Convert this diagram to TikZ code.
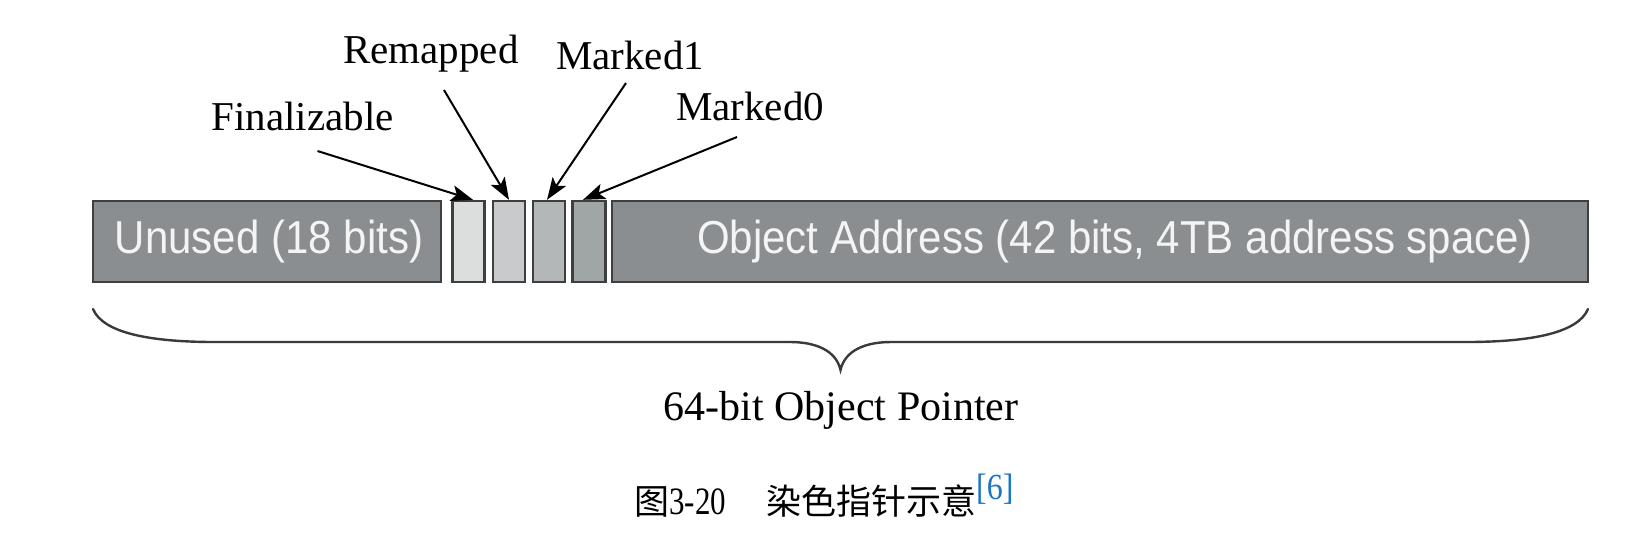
\documentclass[tikz,border=0pt]{standalone}
\usepackage{fontspec}
\setmainfont{Liberation Serif}
\setsansfont{Liberation Sans}
\newfontfamily\cjk{Noto Sans CJK SC}
\usetikzlibrary{arrows.meta}
\definecolor{boxline}{HTML}{3E3F40}
\definecolor{mainfill}{HTML}{8B8E90}
\definecolor{fillA}{HTML}{DCDDDD}
\definecolor{fillB}{HTML}{C8CACB}
\definecolor{fillC}{HTML}{B3B7B8}
\definecolor{fillD}{HTML}{A0A5A6}
\definecolor{boxtext}{HTML}{F4F4F4}
\definecolor{citeblue}{HTML}{1B76C6}
\definecolor{bracecol}{HTML}{3A3A3A}
\begin{document}
\begin{tikzpicture}[x=0.5pt,y=-0.5pt,
  bitbox/.style={draw=boxline, line width=1.2pt, inner sep=0pt, minimum height=40.5pt},
  lbl/.style={font=\fontsize{20.5}{24}\selectfont, inner sep=0pt, anchor=base},
  intext/.style={font=\sffamily\fontsize{21}{25}\selectfont, text=boxtext, inner sep=0pt, anchor=base},
  ptr/.style={line width=1pt, -{Stealth[length=11pt,width=8pt,inset=2.5pt]}}]
\useasboundingbox (0,0) rectangle (1628,538);

% boxes
\node[bitbox, fill=mainfill, minimum width=174pt] (unused) at (267,241.5) {};
\node[bitbox, fill=fillA, minimum width=16pt] (b1) at (468.5,241.5) {};
\node[bitbox, fill=fillB, minimum width=16pt] (b2) at (509,241.5) {};
\node[bitbox, fill=fillC, minimum width=16pt] (b3) at (549,241.5) {};
\node[bitbox, fill=fillD, minimum width=16.5pt] (b4) at (589,241.5) {};
\node[bitbox, fill=mainfill, minimum width=488pt] (addr) at (1100,241.5) {};

\node[intext] (tunused) at (269,253) {\scalebox{1}[1.1]{Unused (18 bits)}};
\node[intext] (taddr) at (1115,253) {\scalebox{1}[1.1]{Object Address (42 bits, 4TB address space)}};

% labels
\node[lbl] (final) at (302.5,130) {Finalizable};
\node[lbl] (remap) at (431,63) {Remapped};
\node[lbl] (mark1) at (630,69) {Marked1};
\node[lbl] (mark0) at (750,120) {Marked0};

\coordinate (sfinal) at (317.5,151);
\coordinate (sremap) at (444,90);
\coordinate (smark1) at (626,83);
\coordinate (smark0) at (737,137);

\draw[ptr] (sfinal) -- ([xshift=2.25pt]b1.north);
\draw[ptr] (sremap) -- (b2.north);
\draw[ptr] (smark1) -- ([xshift=-1pt]b3.north);
\draw[ptr] (smark0) -- ([xshift=-3pt]b4.north);

% brace
\draw[bracecol, line width=1.2pt, line cap=round]
  (93,309) .. controls (103,333) and (150,342) .. (215,342) -- (790,342)
  .. controls (815,342) and (836,350) .. (840.5,370)
  .. controls (845,350) and (866,342) .. (891,342) -- (1466,342)
  .. controls (1531,342) and (1578,333) .. (1588,309);

\node[lbl, font=\fontsize{21}{24}\selectfont] (ptrlbl) at (841,420) {64-bit Object Pointer};

% caption
\node[inner sep=0pt, anchor=base west] (cap) at (634,514)
  {{\cjk\fontsize{17.5}{20}\selectfont 图}{\fontsize{15.5}{20}\selectfont\scalebox{1}[1.25]{3-20}}\hspace{20pt}{\cjk\fontsize{17.5}{20}\selectfont 染色指针示意}\raisebox{7.5pt}{\color{citeblue}\fontsize{16}{20}\selectfont\scalebox{1}[1.15]{[6]}}};
\end{tikzpicture}
\end{document}
